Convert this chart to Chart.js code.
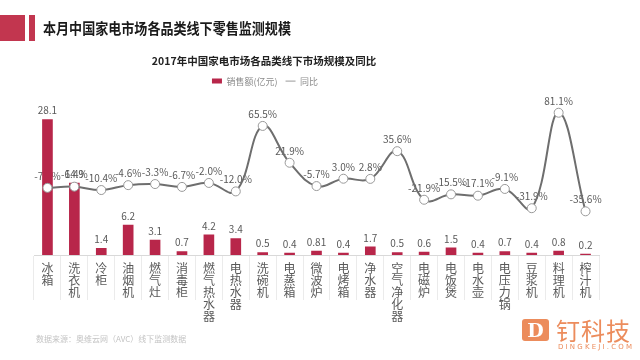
<!DOCTYPE html>
<html>
<head>
<meta charset="utf-8">
<script src="https://cdn.jsdelivr.net/npm/chart.js@4.4.1/dist/chart.umd.min.js"></script>
<style>
  body { margin: 0; width: 640px; height: 360px; background: #fff; overflow: hidden; position: relative; font-family: "Noto Sans CJK SC", sans-serif; }
  #chart { position: absolute; left: 0; top: 0; }
  .blk { position: absolute; background: #c2364f; }
  #head { position: absolute; left: 43px; top: 17px; font-size: 15px; font-weight: bold; color: #1a1a1a; transform: scaleX(0.87); transform-origin: left top; white-space: nowrap; }
  #source { position: absolute; left: 36px; top: 333px; font-size: 8px; color: #c4c4c4; white-space: nowrap; }
  #logoD { position: absolute; left: 522px; top: 319px; width: 27px; height: 22px; background: #ec8c5c; border-radius: 3px; color: #fff; font: bold 19px/22px "DejaVu Serif", serif; text-align: center; }
  #logoTxt { position: absolute; left: 556px; top: 312px; font-size: 24px; color: #ec8c5c; letter-spacing: 1px; white-space: nowrap; }
  #logoUrl { position: absolute; left: 558px; top: 343px; font: 7px "DejaVu Sans", sans-serif; letter-spacing: 2.2px; color: #ec8c5c; white-space: nowrap; }
</style>
</head>
<body>
<canvas id="chart" width="640" height="360"></canvas>
<div class="blk" style="left:0;top:15px;width:25px;height:26px"></div>
<div class="blk" style="left:29px;top:15px;width:6px;height:26px"></div>
<div id="head">本月中国家电市场各品类线下零售监测规模</div>
<div id="source">数据来源：奥维云网（AVC）线下监测数据</div>
<div id="logoD">D</div>
<div id="logoTxt">钉科技</div>
<div id="logoUrl">DINGKEJI.COM</div>
<script>
const chartTitle = '2017年中国家电市场各品类线下市场规模及同比';
const categories = ['冰箱', '洗衣机', '冷柜', '油烟机', '燃气灶', '消毒柜', '燃气热水器', '电热水器', '洗碗机', '电蒸箱', '微波炉',
  '电烤箱', '净水器', '空气净化器', '电磁炉', '电饭煲', '电水壶', '电压力锅', '豆浆机', '料理机', '榨汁机'];
const salesValues = [28.1, 14.9, 1.4, 6.2, 3.1, 0.7, 4.2, 3.4, 0.5, 0.4, 0.81, 0.4, 1.7, 0.5, 0.6, 1.5, 0.4, 0.7, 0.4, 0.8, 0.2];
const yoyValues = [-7.8, -6.4, -10.4, -4.6, -3.3, -6.7, -2.0, -12.0, 65.5, 21.9, -5.7, 3.0, 2.8, 35.6, -21.9, -15.5, -17.1, -9.1, -31.9, 81.1, -35.6];

// labels drawn under the line, so the line and bars cross them like in the original
const valueLabels = {
    id: 'valueLabels',
    beforeDatasetsDraw(chart) {
        const ctx = chart.ctx;
        ctx.save();
        ctx.font = '10px "Noto Sans CJK SC"';
        ctx.fillStyle = '#595959';
        ctx.textAlign = 'center';
        ctx.textBaseline = 'middle';
        chart.getDatasetMeta(0).data.forEach((bar, i) => {
            ctx.fillText(String(salesValues[i]), bar.x, bar.y - 9);
        });
        chart.getDatasetMeta(1).data.forEach((pt, i) => {
            ctx.fillText(yoyValues[i].toFixed(1) + '%', pt.x, pt.y - 12);
        });
        ctx.restore();
    }
};

// title and legend sit left of the plot centre in the reference
const shiftHeader = {
    id: 'shiftHeader',
    afterLayout(chart) {
        [[chart.titleBlock, 264], [chart.legend, 265]].forEach(([box, cx]) => {
            const d = cx - (box.left + box.right) / 2;
            box.left += d;
            box.right += d;
        });
    }
};

new Chart(document.getElementById('chart'), {
    data: {
        labels: categories.map(c => Array.from(c)),
        datasets: [
            {
                type: 'bar',
                label: '销售额(亿元)',
                data: salesValues,
                backgroundColor: '#b8264a',
                barThickness: 10,
                yAxisID: 'y',
                order: 2
            },
            {
                type: 'line',
                label: '同比',
                data: yoyValues,
                yAxisID: 'y1',
                borderColor: '#6e6e6e',
                borderWidth: 2,
                tension: 0.4,
                pointRadius: 4.5,
                pointBackgroundColor: '#fff',
                pointBorderColor: '#999',
                pointBorderWidth: 1,
                order: 1
            }
        ]
    },
    options: {
        responsive: false,
        animation: false,
        layout: { padding: { left: 34, right: 41, top: 55, bottom: 31 } },
        plugins: {
            title: {
                display: true,
                text: chartTitle,
                color: '#222',
                font: { size: 10.5, weight: 'bold', family: '"Noto Sans CJK SC"' },
                padding: { top: 0, bottom: 1 }
            },
            legend: {
                labels: {
                    color: '#8c8c8c',
                    font: { size: 9, family: '"Noto Sans CJK SC"' },
                    usePointStyle: true,
                    pointStyleWidth: 10,
                    boxHeight: 5,
                    padding: 8,
                    sort: (a, b) => a.datasetIndex - b.datasetIndex,
                    generateLabels(chart) {
                        const items = Chart.defaults.plugins.legend.labels.generateLabels(chart);
                        items.forEach(it => { it.pointStyle = it.datasetIndex === 0 ? 'rect' : 'line'; });
                        return items;
                    }
                }
            },
            tooltip: { enabled: false }
        },
        scales: {
            x: {
                // long tick marks act as the column separators under the axis
                grid: { offset: true, drawOnChartArea: false, tickLength: 45, color: '#ebebeb' },
                border: { color: '#d9d9d9' },
                ticks: {
                    padding: -38,
                    maxRotation: 0,
                    autoSkip: false,
                    color: '#595959',
                    font: { size: 12, lineHeight: 1.0, family: '"Noto Sans CJK SC"' }
                },
                afterFit(scale) { scale.height = 74; }
            },
            y: { display: false, min: 0, max: 33.06 },
            y1: { display: false, min: -87.3, max: 101.4 }
        }
    },
    plugins: [valueLabels, shiftHeader]
});
</script>
</body>
</html>
